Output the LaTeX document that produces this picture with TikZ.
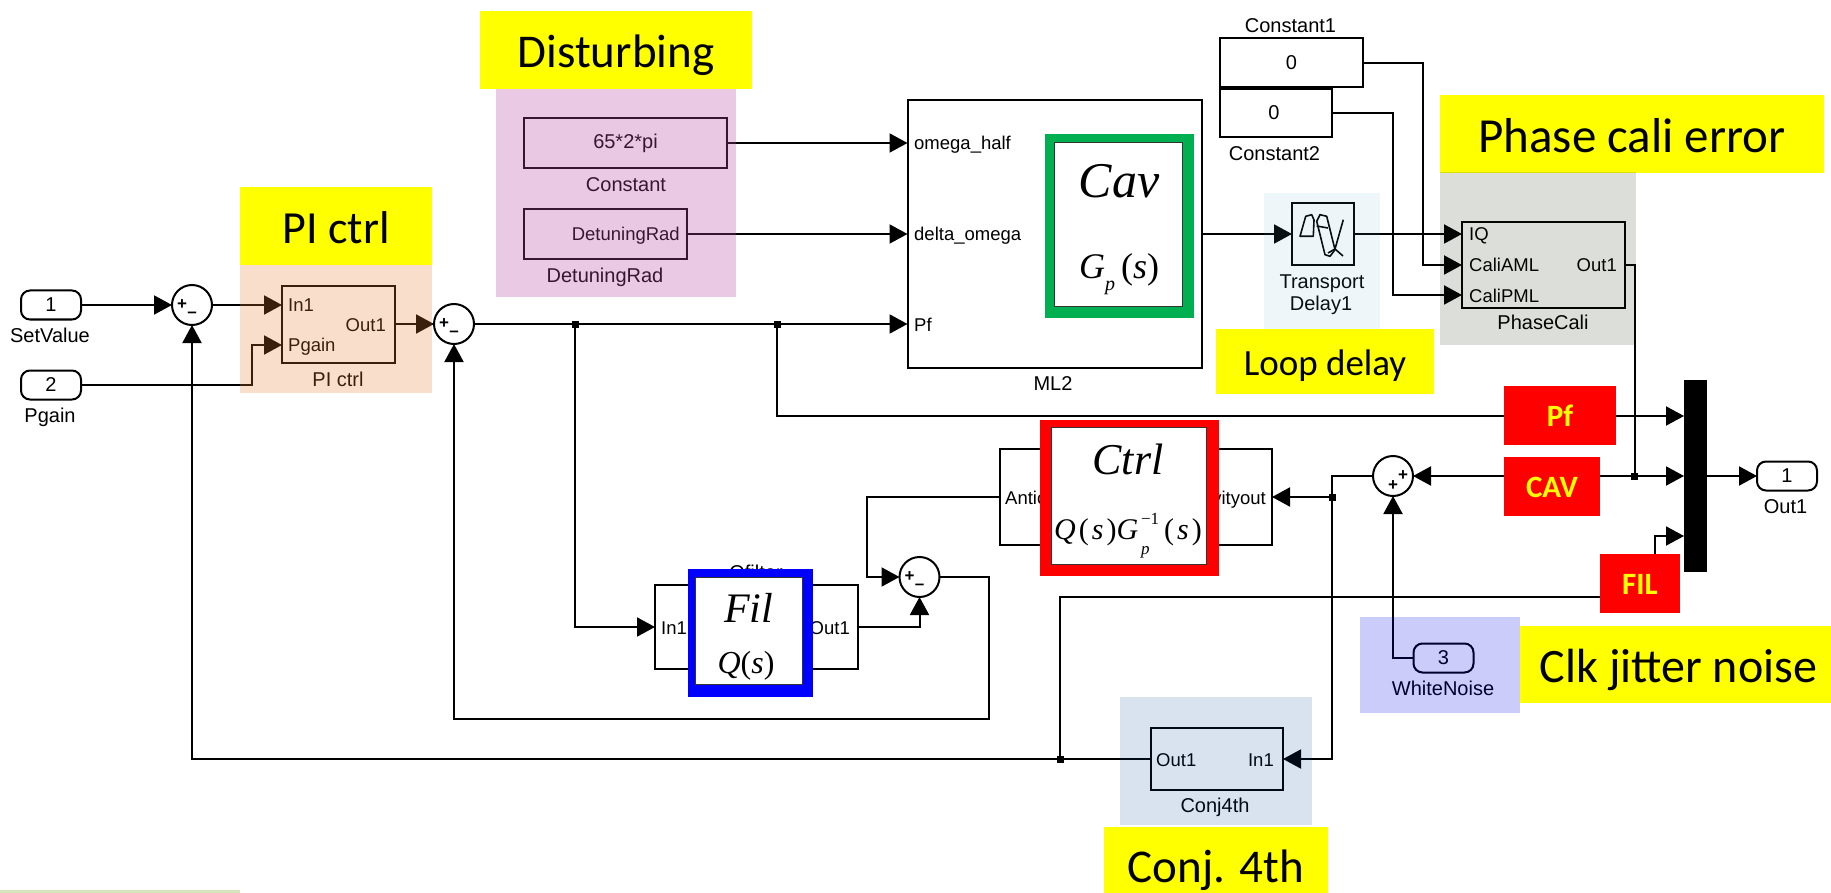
\documentclass[tikz,border=0pt]{standalone}
\usepackage{fontspec}
\setmainfont{Liberation Sans}
\newfontfamily\calibrifont{Carlito}
\newfontfamily\timesfont{Liberation Serif}
\usetikzlibrary{arrows.meta,positioning,calc}
\definecolor{cavgreen}{RGB}{0,176,80}
\definecolor{notered}{RGB}{255,0,0}
\definecolor{noteyellow}{RGB}{255,255,0}
\definecolor{pitint}{RGB}{232,128,48}
\definecolor{disttint}{RGB}{182,75,165}
\definecolor{delaytint}{RGB}{95,165,205}
\definecolor{phasetint}{RGB}{22,35,0}
\definecolor{noisetint}{RGB}{0,0,230}
\definecolor{conjtint}{RGB}{2,68,148}
\definecolor{barlime}{RGB}{216,228,188}
\newcommand{\fsz}[1]{\fontsize{#1}{#1}\selectfont}
\tikzset{
  wire/.style={line width=2pt},
  feed/.style={line width=2pt,-{Triangle[length=18pt,width=19pt]}},
  block/.style n args={2}{draw,line width=2pt,fill=white,inner sep=0pt,outer sep=0pt,minimum width=#1,minimum height=#2,font=\fsz{20}},
  port/.style={draw,line width=2pt,rounded corners=9pt,inner sep=0pt,outer sep=0pt,minimum width=60pt,minimum height=29pt,font=\fsz{20}},
  sumnode/.style={draw,circle,line width=2pt,fill=white,inner sep=0pt,outer sep=0pt,minimum size=40pt},
  dot/.style={fill=black,inner sep=0pt,minimum size=7pt},
  frame/.style n args={3}{fill=#1,inner sep=0pt,outer sep=0pt,minimum width=#2,minimum height=#3},
  paper/.style n args={2}{draw=black!80,line width=1pt,fill=white,inner sep=0pt,minimum width=#1,minimum height=#2},
  note/.style n args={4}{fill=noteyellow,inner sep=0pt,minimum width=#1,minimum height=#2,font=\calibrifont\fsz{#3},text height=#4,text depth=0pt},
  rednote/.style n args={2}{fill=notered,text=noteyellow,inner sep=0pt,minimum width=#1,minimum height=#2,font=\calibrifont\bfseries\fsz{31},text height=22pt,text depth=0pt},
  tint/.style n args={3}{fill=#1,fill opacity=#2,inner sep=0pt,#3},
  label/.style={inner sep=0pt,font=\fsz{20},text height=14.5pt,text depth=0pt},
  inner/.style={inner sep=0pt,font=\fsz{18.5},text height=14pt,text depth=0pt},
  eqn/.style n args={1}{inner sep=0pt,font=\timesfont\itshape\fsz{#1}}
}
\begin{document}
\begin{tikzpicture}[x=1pt,y=-1pt]
  \useasboundingbox (0,0) rectangle (1831,893);
  % Inputs and output
  \node[port] (setPort) at (51,305) {1};
  \node[port] (gainPort) at (51,385) {2};
  \node[port] (noisePort) at (1443.5,658) {3};
  \node[port] (outPort) at (1787,476) {1};
  % Sums
  \foreach \name/\x/\y in {sumA/192/305, sumB/454/324, sumC/919.5/577} {
    \node[sumnode] (\name) at (\x,\y) {};
    \node[font=\bfseries\fsz{17},inner sep=0pt] (\name plus) at (\x-10,\y) {+};
    \node[font=\bfseries\fsz{17},inner sep=0pt] (\name minus) at (\x,\y+10) {--};
  }
  \node[sumnode] (sumD) at (1393,476) {};
  \node[font=\bfseries\fsz{17},inner sep=0pt] (sumDa) at (1403,476) {+};
  \node[font=\bfseries\fsz{17},inner sep=0pt] (sumDb) at (1393,486) {+};
  % Blocks
  \node[block={113pt}{76pt}] (piBox) at (338.5,324.5) {};
  \node[block={203pt}{50pt}] (cnstBox) at (625.5,143) {65*2*pi};
  \node[block={163pt}{50pt}] (detuneBox) at (605.5,234) {};
  \node[block={294.5pt}{268pt}] (mlBox) at (1054.75,234) {};
  \node[block={142.6pt}{49pt}] (cOneBox) at (1291.3,63) {0};
  \node[block={112pt}{48pt}] (cTwoBox) at (1276,113) {\hspace*{-4pt}0};
  \node[block={62pt}{62pt},line width=2.4pt] (delayBox) at (1323,234) {};
  \node[block={163pt}{86pt}] (phaseBox) at (1543.5,265) {};
  \node[block={272.5pt}{96pt}] (ctrlBox) at (1135.75,497) {};
  \node[block={202.5pt}{84pt}] (fltBox) at (756.25,627) {};
  \node[block={132pt}{62pt}] (conjBox) at (1217,759) {};
  \node[fill=black,inner sep=0pt,minimum width=23pt,minimum height=192pt] (muxBar) at (1695.5,476) {};
  % Port points
  \foreach \name/\x/\y in {piIn/282/305, piGain/282/345, piOut/395/324, mlOmega/907.5/143, mlDelta/907.5/234, mlPf/907.5/324,
      phaseIq/1462/234, phaseAml/1462/265, phasePml/1462/295, muxA/1684/416, muxB/1684/476, muxC/1684/536,
      fltIn/655/627, fltMid/1655/597, cornerD/1332/759, cornerE/989/719} {
    \coordinate (\name) at (\x,\y);
  }
  \node[dot] (junA) at (575,324) {};
  \node[dot] (junB) at (777,324) {};
  \node[dot] (junC) at (1634.6,476) {};
  \node[dot] (junD) at (1332,497) {};
  \node[dot] (junE) at (1060,759) {};
  % Wires
  \draw[feed] (setPort.east) -- (sumA.west);
  \draw[feed] (sumA.east) -- (piIn);
  \draw[feed] (gainPort.east) -- ++(171,0) |- (piGain);
  \draw[feed] (piOut) -- (sumB.west);
  \draw[feed] (sumB.east) -- (mlPf);
  \draw[feed] (junA.center) |- (fltIn);
  \draw[feed] (junB.center) |- (muxA);
  \draw[feed] (cnstBox.east) -- (mlOmega);
  \draw[feed] (detuneBox.east) -- (mlDelta);
  \draw[feed] (mlBox.east) -- (delayBox.west);
  \draw[feed] (delayBox.east) -- (phaseIq);
  \draw[feed] (cOneBox.east) -- ++(59.9,0) |- (phaseAml);
  \draw[feed] (cTwoBox.east) -- ++(61,0) |- (phasePml);
  \draw[wire] (phaseBox.east) -| (junC.center);
  \draw[feed] (junC.center) -- (muxB);
  \draw[feed] (junC.center) -- (sumD.east);
  \draw[feed] (muxBar.east) -- (outPort.west);
  \draw[feed] (sumD.west) -| (cornerD) -- (conjBox.east);
  \draw[feed] (junD.center) -- (ctrlBox.east);
  \draw[feed] (ctrlBox.west) -- ++(-132.5,0) |- (sumC.west);
  \draw[feed] (fltBox.east) -| (sumC.south);
  \draw[feed] (sumC.east) -| (cornerE) -| (sumB.south);
  \draw[feed] (conjBox.west) -| (sumA.south);
  \draw[feed] (junE.center) |- (fltMid) |- (muxC);
  \draw[feed] (noisePort.west) -| (sumD.south);
  % Delay icon
  \draw[line width=1.6pt,line join=round] (1300,236.3) -- (1305.7,216.3) -- (1311.7,214.7) -- (1314,220) -- (1313.3,236.3) -- cycle;
  \draw[line width=1.6pt,line join=round] (1316.7,221.3) -- (1320,214.7) -- (1326.7,216.3) -- (1335,249.7) -- (1330,256.3) -- (1325,254.7) -- cycle;
  \draw[line width=1.6pt] (1343.3,219.7) -- (1335,249) -- (1328,253);
  \draw[line width=1.6pt] (1335,249) -- (1343,256);
  \draw[line width=1.6pt] (1316.7,226) -- (1328,228);
  % Names under the blocks
  \foreach \name/\x/\y/\txt in {setLab/50/335/SetValue, gainLab/50/415/Pgain, piLab/338/379/PI ctrl, cnstLab/626/184/Constant,
      detuneLab/605/275/DetuningRad, mlLab/1053/383/ML2, cOneLab/1290.5/25/Constant1, cTwoLab/1274.5/153/Constant2,
      delayLabA/1322/281/Transport, delayLabB/1321/303/Delay1, phaseLab/1543/322/PhaseCali, fltLab/756/572/Qfilter,
      noiseLab/1443/688/WhiteNoise, outLab/1785.5/506/Out1, conjLab/1215/805/Conj4th} {
    \node[label] (\name) at (\x,\y) {\txt};
  }
  % Port texts
  \foreach \name/\x/\y/\txt in {piA/288/305/In1, piB/288/345/Pgain, mlA/914/143/omega\_half, mlB/914/234/delta\_omega, mlC/914/324/Pf,
      phA/1469/234/IQ, phB/1469/265/CaliAML, phC/1469/295/CaliPML, fltA/661/627/In1, ctA/1005/497/Antic, cjA/1156/759/Out1} {
    \node[inner,anchor=west] (\name) at (\x,\y) {\txt};
  }
  \foreach \name/\x/\y/\txt in {piC/386/324/Out1, deA/680/234/DetuningRad, phD/1617/265/Out1, fltB/850/627/Out1,
      ctB/1266/497/vityout, cjB/1274/759/In1} {
    \node[inner,anchor=east] (\name) at (\x,\y) {\txt};
  }
  % Coloured frames
  \node[frame={cavgreen}{149pt}{184pt}] (cavFrame) at (1119.5,226) {};
  \node[paper={128pt}{164pt}] (cavPaper) at (1118,225) {};
  \node[eqn={50}] (cavName) at (1119,181) {Cav};
  \node[eqn={36}] (cavEq) at (1119,274) {G\raisebox{-0.35em}{\fsz{20}p}\,{\upshape(}s{\upshape)}};
  \node[frame={notered}{179pt}{156pt}] (ctrlFrame) at (1129.5,498) {};
  \node[paper={155pt}{137pt}] (ctrlPaper) at (1128.5,495.5) {};
  \node[eqn={44}] (ctrlName) at (1128,459) {Ctrl};
  \node[eqn={30}] (ctrlEq) at (1128,536) {Q\hspace{3pt}{\upshape(}\hspace{3pt}s\hspace{3pt}{\upshape)}G\rlap{\raisebox{-0.5em}{\fsz{17}\,p}}\raisebox{0.5em}{\fsz{17}\upshape\,−1}\,{\upshape(}\hspace{3pt}s\hspace{3pt}{\upshape)}};
  \node[frame={blue}{125pt}{128pt}] (filFrame) at (750.5,633) {};
  \node[paper={107pt}{107pt}] (filPaper) at (748.5,630.5) {};
  \node[eqn={42}] (filName) at (748.5,608) {Fil};
  \node[eqn={32}] (filEq) at (746,666) {Q{\upshape(}s{\upshape)}};
  % Red notes
  \node[rednote={112pt}{59pt}] (pfNote) at (1560,415.5) {Pf};
  \node[rednote={96pt}{59pt}] (cavNote) at (1552,486.5) {CAV};
  \node[rednote={80pt}{59pt}] (filNote) at (1640,583.5) {FIL};
  % Yellow notes
  \node[note={272pt}{78pt}{47}{35pt}] (distNote) at (616,50) {Disturbing};
  \node[note={192pt}{78pt}{46}{35pt}] (piNote) at (336,226) {PI ctrl};
  \node[note={384pt}{78pt}{49}{37pt}] (phaseNote) at (1632,134) {Phase cali error};
  \node[note={218pt}{65pt}{37}{28pt}] (loopNote) at (1325,361.5) {Loop delay};
  \node[note={311pt}{77pt}{48}{36pt}] (clkNote) at (1675.5,664.5) {\hspace*{6pt}Clk jitter noise};
  \node[note={224.4pt}{66pt}{47}{44pt}] (conjNote) at (1215.8,860) {Conj. 4th};
  \node[fill=barlime,inner sep=0pt,minimum width=240pt,minimum height=3pt] (cornerBar) at (120,891.5) {};
  % Tinted panels
  \node[tint={pitint}{.25}{minimum width=192pt,minimum height=128pt}] (piPanel) at (336,329) {};
  \node[tint={disttint}{.3}{minimum width=240pt,minimum height=208pt}] (distPanel) at (616,193) {};
  \node[tint={delaytint}{.1}{minimum width=116pt,minimum height=136pt}] (delayPanel) at (1322,261) {};
  \node[tint={phasetint}{.15}{minimum width=196pt,minimum height=173pt}] (phasePanel) at (1538,258.5) {};
  \node[tint={noisetint}{.2}{minimum width=160pt,minimum height=96pt}] (noisePanel) at (1440,665) {};
  \node[tint={conjtint}{.15}{minimum width=192pt,minimum height=128pt}] (conjPanel) at (1216,761) {};
\end{tikzpicture}
\end{document}
